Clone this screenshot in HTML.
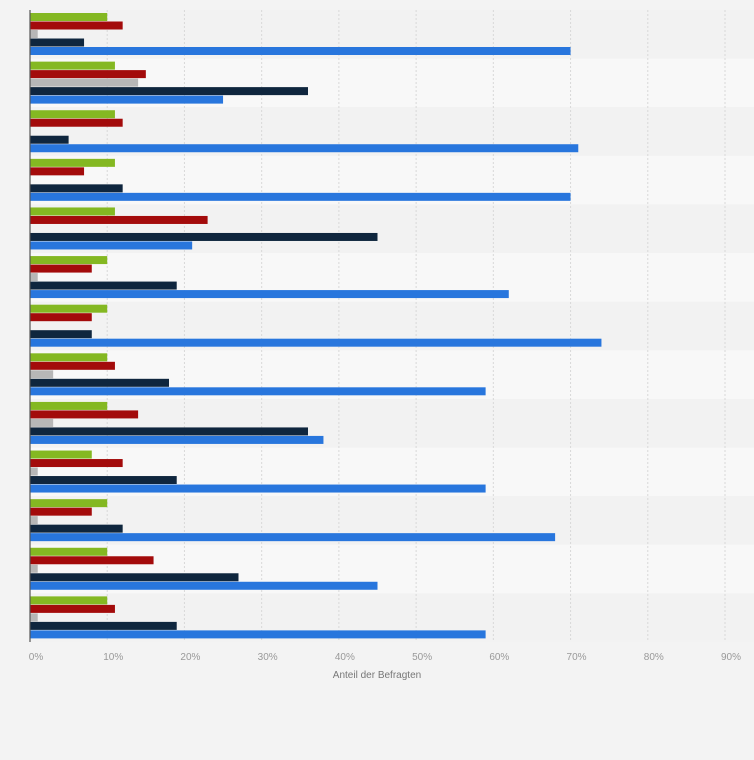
<!DOCTYPE html>
<html><head><meta charset="utf-8"><style>
html,body{margin:0;padding:0;background:#f3f3f3;}
svg{display:block;font-family:"Liberation Sans",sans-serif;}
</style></head><body>
<svg id="chart" width="754" height="760" xmlns="http://www.w3.org/2000/svg">
<rect x="0" y="0" width="754" height="760" fill="#f3f3f3"/>
<g id="bands"></g><g id="grid"></g><g id="bars"></g><g id="ticks"></g>
<line x1="30" y1="10" x2="30" y2="642" stroke="#555" stroke-width="1.2"/>
<text x="377" y="678" text-anchor="middle" font-size="10" fill="#777">Anteil der Befragten</text>
</svg>
<script>
const greenValues=[10,11,11,11,11,10,10,10,10,8,10,10,10];
const redValues=[12,15,12,7,23,8,8,11,14,12,8,16,11];
const grayValues=[1,14,0,0,0,1,0,3,3,1,1,1,1];
const navyValues=[7,36,5,12,45,19,8,18,36,19,12,27,19];
const blueValues=[70,25,71,70,21,62,74,59,38,59,68,45,59];
const tickLabels=["0%","10%","20%","30%","40%","50%","60%","70%","80%","90%"];
const tickValues=[0,10,20,30,40,50,60,70,80,90];
const series=[{v:greenValues,c:"#84b822",n:"green"},{v:redValues,c:"#a30b0b",n:"red"},{v:grayValues,c:"#b7b7b7",n:"gray"},{v:navyValues,c:"#0f263e",n:"navy"},{v:blueValues,c:"#2876dd",n:"blue"}];
const X0=30,X1=725,TOP=10,BOT=642;
const x=v=>X0+v*(X1-X0)/90;
const n=blueValues.length,gh=(BOT-TOP)/n;
const NS="http://www.w3.org/2000/svg";
function mk(t,a,p){const e=document.createElementNS(NS,t);for(const k in a)e.setAttribute(k,a[k]);p.appendChild(e);return e;}
const bands=document.getElementById('bands'),grid=document.getElementById('grid'),bars=document.getElementById('bars'),ticks=document.getElementById('ticks');
for(let i=0;i<n;i++){const r=mk('rect',{x:X0,y:TOP+i*gh,width:754-X0,height:gh,fill:i%2?"#f8f8f8":"#f2f2f2"},bands);

}
tickValues.forEach((t,i)=>{
if(t>0){const l=mk('line',{x1:x(t),x2:x(t),y1:TOP,y2:BOT,stroke:"#d8d8d8","stroke-dasharray":"2,2"},grid);

}
const tx=mk('text',{x:x(t)+6,y:660,"text-anchor":"middle","font-size":"10",fill:"#999"},ticks);
tx.textContent=tickLabels[i];


});
for(let i=0;i<n;i++){series.forEach((s,j)=>{
const y=TOP+i*gh+3+j*8.5;const w=x(s.v[i])-X0;
if(w<=0)return;
const r=mk('rect',{x:X0,y:y,width:w,height:8,fill:s.c},bars);


});}
</script>
</body></html>
